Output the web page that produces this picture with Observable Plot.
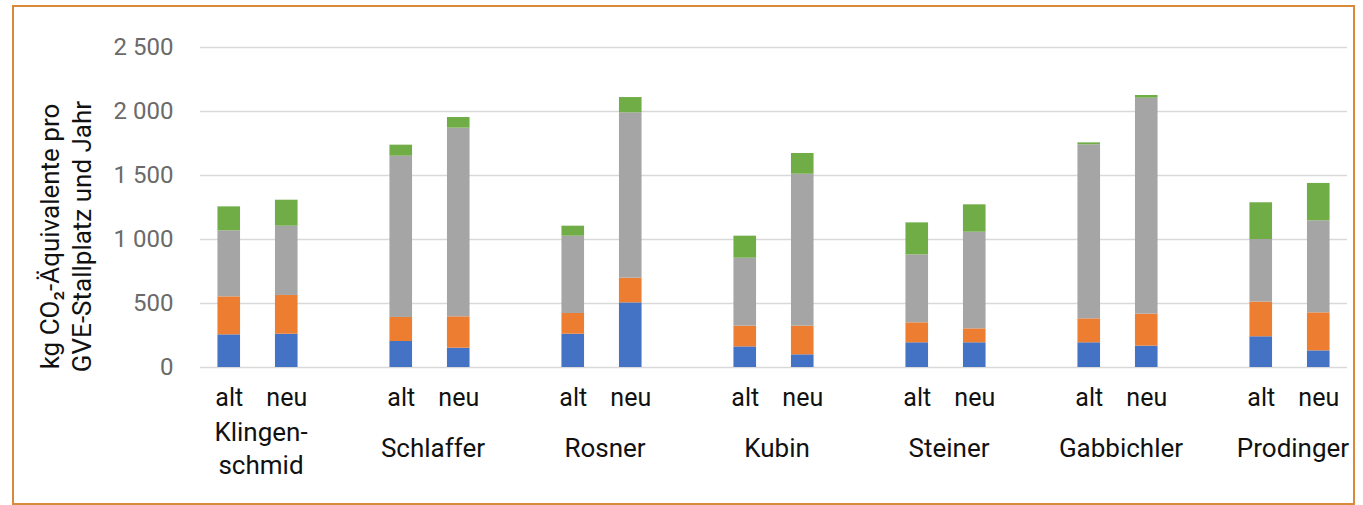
<!DOCTYPE html>
<html><head><meta charset="utf-8">
<script src="https://cdn.jsdelivr.net/npm/d3@7"></script>
<script src="https://cdn.jsdelivr.net/npm/@observablehq/plot@0.6"></script>
<style>
html,body{margin:0;padding:0;background:#fff;}
#wrap{position:relative;width:1363px;height:505px;overflow:hidden;font-family:Roboto, sans-serif;}
#border{position:absolute;left:12px;top:5px;width:1343px;height:500px;box-sizing:border-box;border:2px solid #d8893a;pointer-events:none;}
#chart{position:absolute;left:0;top:0;}
</style>
</head><body>
<div id="wrap"><div id="chart"></div><div id="border"></div></div>
<script>
// Data (kg CO2-Äquivalente pro GVE-Stallplatz und Jahr)
const farms = ["Klingen-\nschmid", "Schlaffer", "Rosner", "Kubin", "Steiner", "Gabbichler", "Prodinger"];
const variants = ["alt", "neu"];
const seriesNames = ["Anteil 1", "Anteil 2", "Anteil 3", "Anteil 4"];
const seriesColors = ["#4472c4", "#ed7d31", "#a5a5a5", "#70ad47"];
// values per farm, in order [alt, neu]
const blue   = [[255, 260], [203, 151], [260, 505], [161,  99], [193, 193], [193, 167], [240, 130]];
const orange = [[297, 303], [188, 245], [162, 193], [162, 224], [156, 109], [187, 250], [271, 297]];
const gray   = [[516, 541], [1260, 1474], [604, 1292], [531, 1187], [531, 755], [1360, 1687], [489, 719]];
const green  = [[187, 203], [86, 83], [78, 119], [172, 162], [250, 214], [15, 21], [287, 292]];
const yTicks = [0, 500, 1000, 1500, 2000, 2500];
const yLabel = "kg CO\u2082-Äquivalente pro\nGVE-Stallplatz und Jahr";

const seriesValues = [blue, orange, gray, green];
const rows = [];
seriesNames.forEach((s, si) => {
  farms.forEach((f, fi) => {
    variants.forEach((v, vi) => {
      rows.push({farm: f, variant: v, series: s, value: seriesValues[si][fi][vi]});
    });
  });
});
const altRows = rows.filter(d => d.variant === "alt");
const neuRows = rows.filter(d => d.variant === "neu");
const altLabels = farms.map(f => ({farm: f, variant: "alt"}));
const neuLabels = farms.map(f => ({farm: f, variant: "neu"}));

const fmt = d3.formatLocale({decimal: ",", thousands: " ", grouping: [3], currency: ["", "€"]}).format(",d");
const off = 28.75;
const barInset = 44.2;

const chart = Plot.plot({
  width: 1363, height: 505,
  marginLeft: 200, marginRight: 16, marginTop: 47, marginBottom: 138,
  style: {fontFamily: "Roboto, sans-serif", background: "transparent", overflow: "visible"},
  x: {domain: farms, paddingInner: 0.355, paddingOuter: 0, axis: null},
  y: {domain: [0, 2500], axis: null},
  color: {domain: seriesNames, range: seriesColors},
  marks: [
    Plot.gridY(yTicks, {stroke: "#d9d9d9", strokeOpacity: 1, strokeWidth: 1.5}),
    Plot.axisY(yTicks, {tickSize: 0, tickPadding: 27, fontSize: 24, color: "#6a6a6a", tickFormat: fmt, label: null}),
    Plot.barY(altRows, {x: "farm", y: "value", fill: "series", dx: -off, insetLeft: barInset, insetRight: barInset}),
    Plot.barY(neuRows, {x: "farm", y: "value", fill: "series", dx: off, insetLeft: barInset, insetRight: barInset}),
    Plot.text(altLabels, {x: "farm", text: "variant", frameAnchor: "bottom", lineAnchor: "middle", dx: -off, dy: 30, fontSize: 25, fill: "#111"}),
    Plot.text(neuLabels, {x: "farm", text: "variant", frameAnchor: "bottom", lineAnchor: "middle", dx: off, dy: 30, fontSize: 25, fill: "#111"}),
    Plot.text(farms, {x: d => d, text: d => d, frameAnchor: "bottom", lineAnchor: "middle", dx: 3, dy: 79, fontSize: 26, lineHeight: 1.27, fill: "#111"}),
    Plot.text([yLabel], {text: d => d, frameAnchor: "left", textAnchor: "middle", lineAnchor: "middle", rotate: -90, dx: -136, dy: 29, fontSize: 26, lineHeight: 1.23, fill: "#111"})
  ]
});
document.getElementById("chart").appendChild(chart);
</script>
</body></html>
